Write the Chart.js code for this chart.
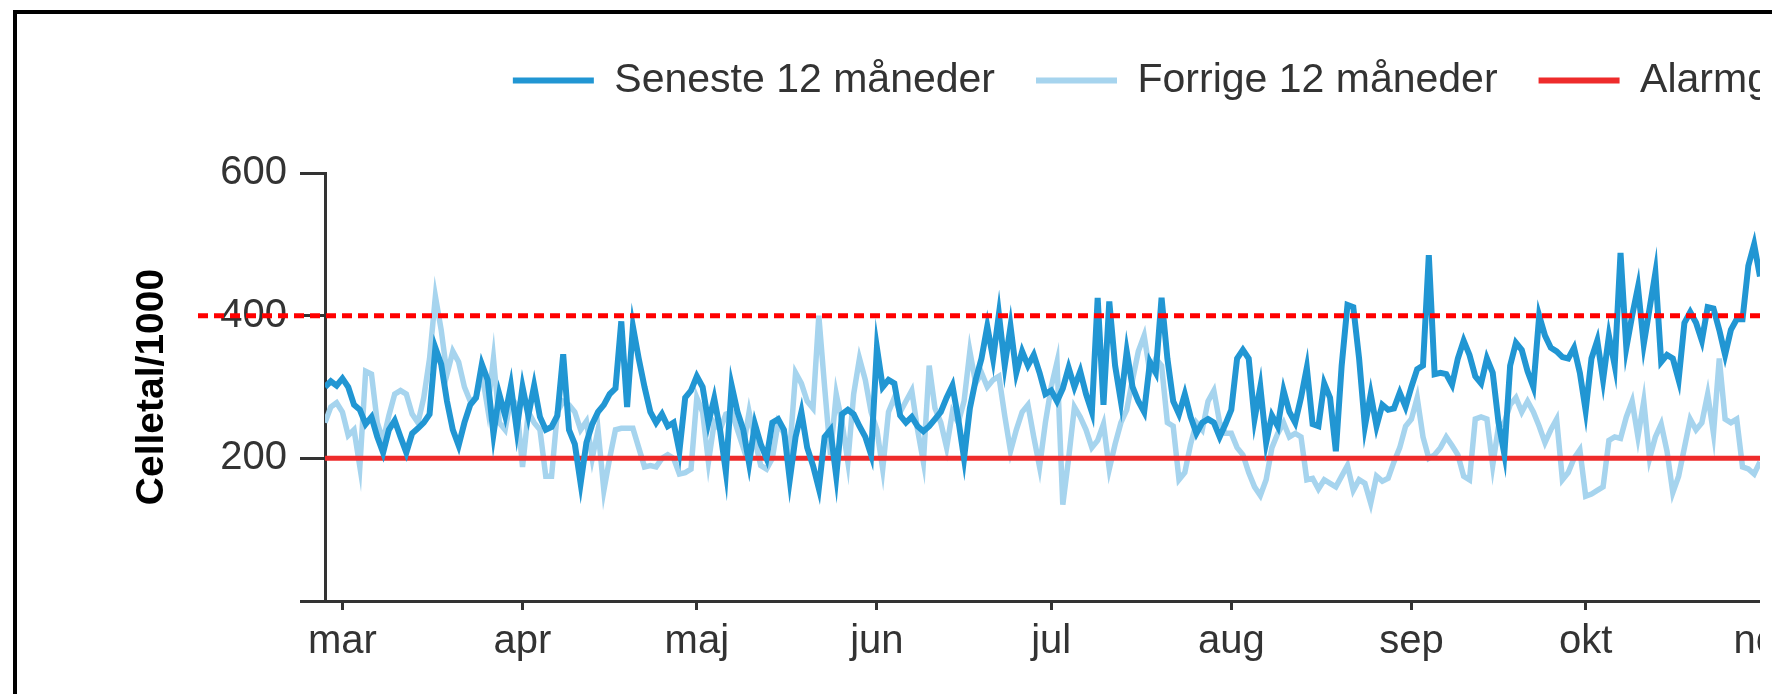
<!DOCTYPE html>
<html>
<head>
<meta charset="utf-8">
<script src="https://cdn.jsdelivr.net/npm/chart.js@4.4.1/dist/chart.umd.min.js"></script>
<style>
  html, body { margin: 0; padding: 0; background: #fff; overflow: hidden; }
  body { width: 1772px; height: 694px; position: relative; }
  #clip { position: absolute; left: 0; top: 0; width: 1760px; height: 694px; overflow: hidden; }
  #chartBox { position: absolute; left: 0; top: 19px; width: 2419px; height: 675px; }
  #frame { position: absolute; left: 13px; top: 10px; right: 0; bottom: -10px;
           border-top: 4px solid #000; border-left: 4px solid #000; pointer-events: none; }
</style>
</head>
<body>
<div id="clip"><div id="chartBox"><canvas id="chart" width="2419" height="675"></canvas></div></div>
<div id="frame"></div>
<script>
// day index 0 = 1 March; series start 3 days earlier
const firstDay = -3;
const xMax = 354;

const monthStarts = [0, 31, 61, 92, 122, 153, 184, 214, 245, 275, 306, 337];
const monthLabels = ["mar", "apr", "maj", "jun", "jul", "aug", "sep", "okt", "nov", "dec", "jan", "feb"];

const alarmLimit = 200;
const upperLimit = 400;

// Celletal/1000, one value per day
const seneste = [
  300, 308, 302, 312, 300, 275, 268, 248, 258, 230, 208, 240, 253,
  230, 208, 235, 242, 250, 262, 355, 332, 280, 240,
  218, 250, 275, 285, 332, 310, 234, 290, 260, 302,
  240, 300, 260, 302, 258, 240, 244, 260, 346, 240,
  220, 165, 222, 248, 265, 275, 290, 298, 392, 272,
  385, 340, 300, 265, 250, 262, 245, 250, 210, 285,
  295, 315, 300, 250, 284, 240, 181, 302, 265, 240,
  193, 248, 220, 200, 250, 255, 240, 170, 230, 265,
  215, 190, 158, 230, 240, 175, 262, 268, 262, 245,
  230, 205, 355, 300, 310, 305, 260, 250, 258, 245,
  238, 245, 255, 265, 285, 302, 255, 200, 270, 310,
  340, 385, 340, 402, 330, 385, 320, 350, 330, 345,
  320, 290, 295, 280, 298, 327, 300, 322, 290, 265,
  425, 275, 420, 330, 280, 350, 300, 280, 265, 335,
  320, 425, 340, 280, 262, 290, 258, 235, 250, 255,
  250, 230, 248, 268, 340, 352, 340, 255, 300, 222,
  260, 245, 295, 265, 250, 285, 327, 248, 245, 305,
  285, 210, 330, 415, 412, 340, 245, 290, 245, 275,
  268, 270, 292, 272, 300, 325, 330, 485, 318, 320,
  318, 303, 340, 365, 345, 315, 305, 340, 320, 250,
  206, 330, 362, 352, 322, 300, 400, 372, 355, 350,
  342, 340, 355, 320, 267, 340, 365, 310, 372, 330,
  488, 355, 400, 440, 360, 410, 460, 335, 345, 340,
  310, 390, 405, 390, 365, 412, 410, 380, 345, 380,
  395, 395, 470, 500, 455
];

const forrige = [
  250, 272, 278, 265, 232, 240, 188, 322, 318, 250, 225, 260, 290,
  295, 290, 262, 250, 285, 340, 427, 380, 318, 350,
  335, 300, 280, 285, 320, 270, 340, 250, 240, 285,
  275, 188, 265, 250, 240, 175, 175, 265, 280, 275,
  265, 240, 252, 200, 240, 155, 200, 240, 242, 242,
  242, 215, 188, 190, 188, 200, 205, 200, 178, 180,
  185, 285, 265, 195, 250, 240, 262, 265, 240, 215,
  265, 225, 190, 185, 200, 250, 235, 210, 320, 305,
  280, 270, 400, 300, 205, 290, 250, 195, 290, 340,
  310, 265, 240, 185, 265, 285, 265, 280, 295, 240,
  195, 330, 270, 250, 215, 265, 250, 280, 350, 305,
  320, 300, 310, 315, 260, 210, 240, 265, 275, 230,
  188, 250, 300, 335, 135, 200, 272, 258, 240, 215,
  225, 248, 185, 220, 250, 268, 310, 350, 372, 320,
  340, 330, 250, 245, 170, 180, 220, 250, 240, 280,
  295, 250, 235, 235, 215, 205, 180, 160, 148, 170,
  215, 235, 250, 230, 235, 230, 170, 172, 157, 170,
  165, 160, 175, 190, 155, 170, 165, 137, 175, 168,
  172, 195, 215, 245, 255, 285, 230, 200, 205, 215,
  230, 218, 205, 175, 170, 255, 258, 255, 190, 245,
  250, 275, 285, 265, 280, 265, 245, 222, 240, 255,
  170, 180, 200, 212, 147, 150, 155, 160, 225, 230,
  228, 258, 280, 230, 280, 200, 230, 248, 210, 152,
  175, 215, 255, 240, 250, 290, 235, 340, 255, 250,
  255, 188, 185, 178, 195
];

const FONT = "'Liberation Sans', Arial, sans-serif";
const TEXT = "#333";

function toPoints(values) {
  return values.map((v, i) => ({ x: firstDay + i, y: v }));
}

// extra room between legend and plot
const legendGap = {
  id: "legendGap",
  beforeInit(chart) {
    const fit = chart.legend.fit;
    chart.legend.fit = function () {
      fit.bind(chart.legend)();
      this.height += 62;
    };
  }
};

// dashed 400 line, drawn over everything
const upperLine = {
  id: "upperLine",
  afterDraw(chart) {
    const c = chart.ctx;
    const y = chart.scales.y.getPixelForValue(upperLimit);
    c.save();
    c.strokeStyle = "#ff0000";
    c.lineWidth = 5;
    c.setLineDash([10, 6]);
    c.beginPath();
    c.moveTo(chart.chartArea.left - 127, y);
    c.lineTo(chart.chartArea.right, y);
    c.stroke();
    c.restore();
  }
};

new Chart(document.getElementById("chart"), {
  type: "line",
  data: {
    datasets: [
      {
        label: "Seneste 12 måneder",
        data: toPoints(seneste),
        borderColor: "#2196d3",
        backgroundColor: "#2196d3",
        borderWidth: 6,
        pointRadius: 0,
        tension: 0,
        order: 0
      },
      {
        label: "Forrige 12 måneder",
        data: toPoints(forrige),
        borderColor: "#a6d4ee",
        backgroundColor: "#a6d4ee",
        borderWidth: 5.5,
        pointRadius: 0,
        tension: 0,
        order: 2
      },
      {
        label: "Alarmgrænse",
        data: [{ x: firstDay, y: alarmLimit }, { x: xMax, y: alarmLimit }],
        borderColor: "#ee2b2b",
        backgroundColor: "#ee2b2b",
        borderWidth: 5,
        pointRadius: 0,
        order: 1
      }
    ]
  },
  options: {
    responsive: false,
    animation: false,
    devicePixelRatio: 1,
    layout: { padding: { left: 0, right: 20, top: 0, bottom: 20 } },
    plugins: {
      tooltip: { enabled: false },
      legend: {
        position: "top",
        labels: {
          boxWidth: 81,
          boxHeight: 6,
          padding: 41,
          color: TEXT,
          font: { family: FONT, size: 41 },
          sort: (a, b) => a.datasetIndex - b.datasetIndex,
          generateLabels: (chart) =>
            Chart.defaults.plugins.legend.labels.generateLabels(chart).map(l => ({ ...l, lineWidth: 0 }))
        }
      }
    },
    scales: {
      x: {
        type: "linear",
        min: firstDay,
        max: xMax,
        afterBuildTicks: (scale) => {
          scale.ticks = monthStarts.map(v => ({ value: v }));
        },
        ticks: {
          autoSkip: false,
          maxRotation: 0,
          padding: 8,
          color: TEXT,
          font: { family: FONT, size: 40 },
          callback: (value, index) => monthLabels[index]
        },
        grid: { drawOnChartArea: false, tickLength: 9, color: TEXT, lineWidth: 3 },
        border: { color: TEXT, width: 3 }
      },
      y: {
        min: 0,
        max: 600,
        afterFit: (scale) => { scale.width = 325; },
        ticks: {
          stepSize: 200,
          padding: 13,
          color: TEXT,
          font: { family: FONT, size: 40 },
          callback: (v) => (v === 0 ? "" : v)
        },
        grid: { drawOnChartArea: false, tickLength: 25, color: TEXT, lineWidth: 3 },
        border: { color: TEXT, width: 3 },
        title: {
          display: true,
          text: "Celletal/1000",
          color: "#000",
          font: { family: FONT, size: 39, weight: "bold" },
          padding: { top: 129, bottom: 0 }
        }
      }
    }
  },
  plugins: [legendGap, upperLine]
});
</script>
</body>
</html>
